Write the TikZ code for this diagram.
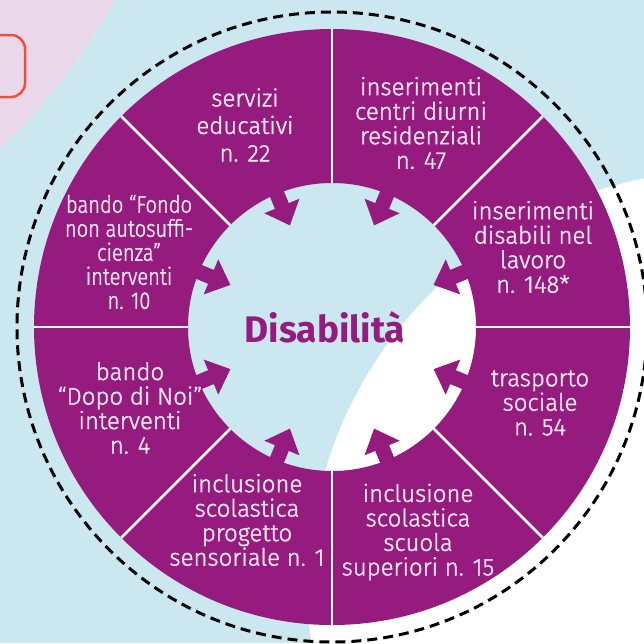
\documentclass[tikz,border=0pt]{standalone}
\usepackage{fontspec}
\setmainfont{Fira Sans Light}[FakeBold=1.6]
\newfontfamily\narrowfont{Fira Sans Light}[FakeStretch=0.84, FakeBold=1.6]
\newfontfamily\titlefont{Fira Sans Bold}
\definecolor{purp}{HTML}{961B7E}
\definecolor{bgblue}{HTML}{CBE8F0}
\definecolor{pinkbg}{HTML}{EAD7EA}
\definecolor{orng}{HTML}{E9533A}
\definecolor{txt}{HTML}{F6E6F2}
\begin{document}
\begin{tikzpicture}[x=1pt,y=1pt,
  lbl/.style={text=txt, align=center, font=\fontsize{24}{24.5}\selectfont, inner sep=0pt},
  divider/.style={draw=white, line width=2.5pt},
  ringarrow/.style={fill=purp}]
\useasboundingbox (0,-643) rectangle (644,0);
\fill[bgblue] (0,-643) rectangle (644,0);
\begin{scope}
  \clip (0,-643) rectangle (644,0);
  \fill[pinkbg] (-419,290) circle (607);
  \fill[white] (728,-590) circle (420);
  \draw[orng, line width=2.5pt, rounded corners=14pt] (-40,-35) rectangle (25,-97);
\end{scope}
\coordinate (c) at (332,-327);
\fill[purp, even odd rule] (c) circle (298) (c) circle (144);
\begin{scope}[shift={(c)}]
  \foreach \a in {0,45,...,315} \draw[divider] (\a:144) -- (\a:298);
  \foreach \a in {22.5,67.5,...,337.5}
    \fill[ringarrow, rotate=\a] (110,0) -- (131,19) -- (131,7.5) -- (165,7.5) -- (165,-7.5) -- (131,-7.5) -- (131,-19) -- cycle;
\end{scope}
\draw[black, line width=3pt, dash pattern=on 10pt off 6pt] (c) circle (315);
\node[text=purp, font=\titlefont\fontsize{37}{37}\selectfont, inner sep=0pt] (title) at (325,-327) {Disabilità};
\node[lbl, font=\fontsize{24}{27.5}\selectfont] (s1) at (245,-125) {servizi\\educativi\\n. 22};
\node[lbl] (s2) at (421,-123) {inserimenti\\centri diurni\\residenziali\\n. 47};
\node[lbl] (s3) at (533,-247) {inserimenti\\disabili nel\\lavoro\\n. 148*};
\node[lbl] (s4) at (540,-403) {trasporto\\sociale\\n. 54};
\node[lbl] (s5) at (418,-532) {inclusione\\scolastica\\scuola\\superiori n. 15};
\node[lbl] (s6) at (247,-520) {inclusione\\scolastica\\progetto\\sensoriale n. 1};
\node[lbl] (s7) at (130,-408) {bando\\“Dopo di Noi”\\interventi\\n. 4};
\node[lbl, font=\narrowfont\fontsize{24}{24}\selectfont] (s8) at (129,-252) {bando “Fondo\\non autosuffi-\\cienza”\\interventi\\n. 10};
\end{tikzpicture}
\end{document}
